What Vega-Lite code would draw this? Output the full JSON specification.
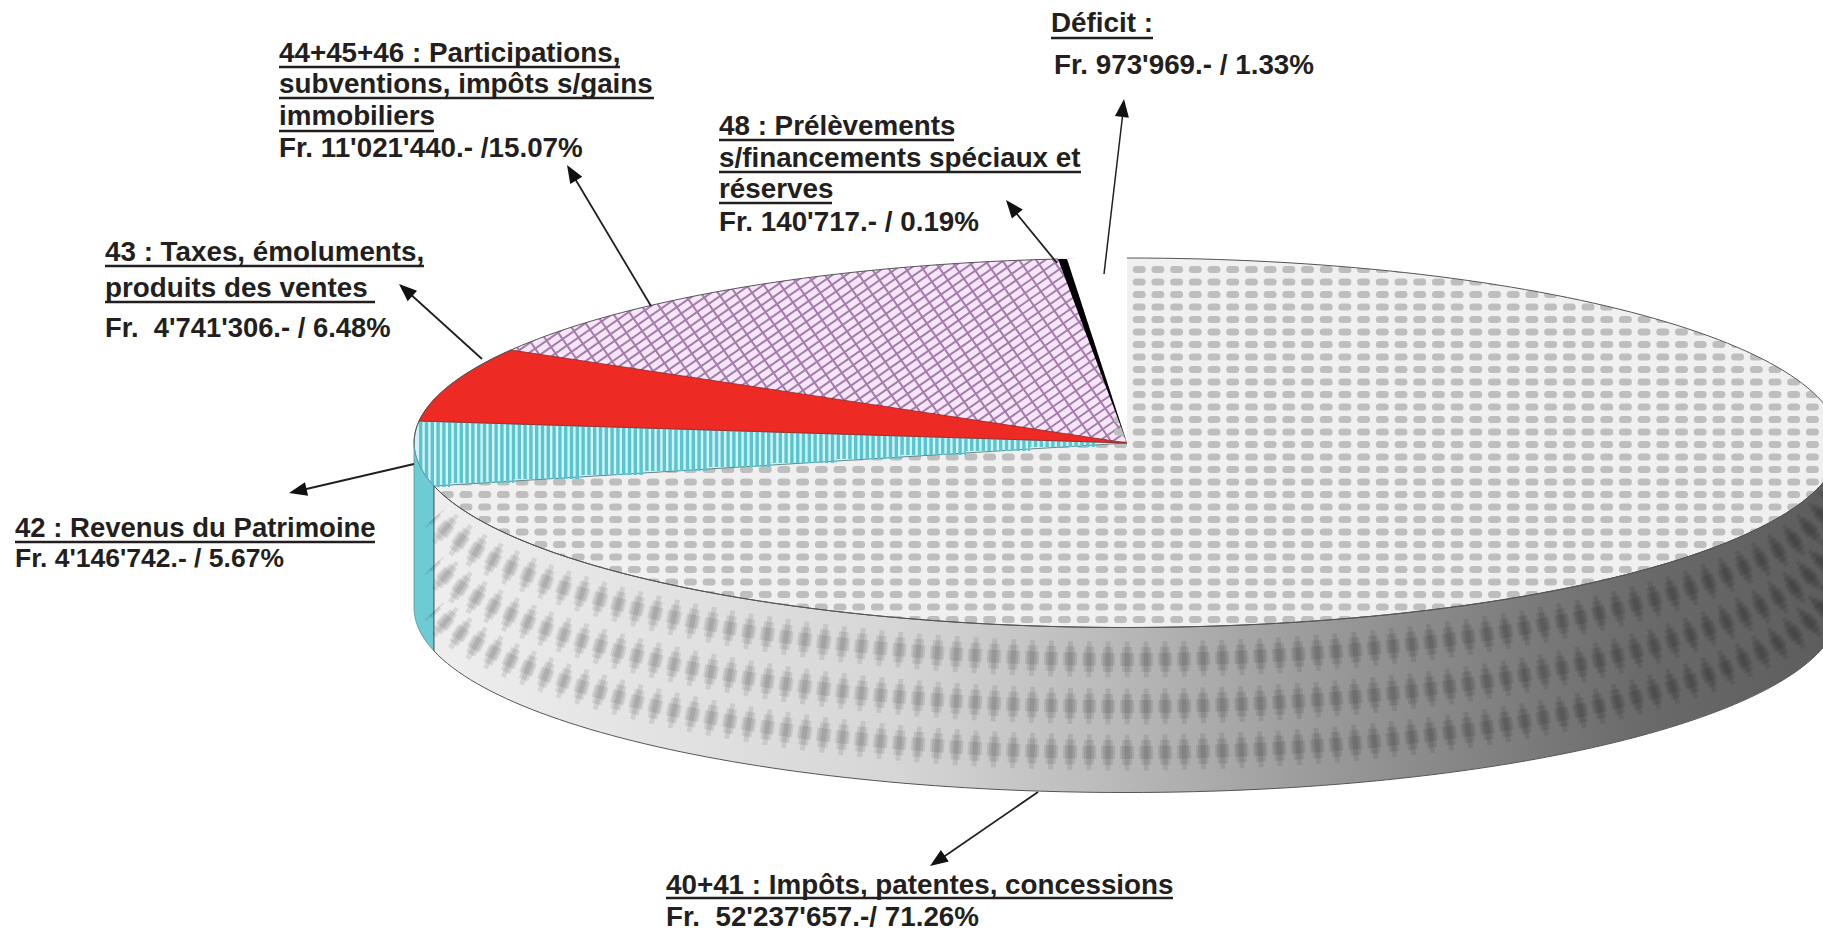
{
"$schema":"https://vega.github.io/schema/vega-lite/v6.json",
"width":1823,"height":928,"padding":0,"autosize":{"type":"none"},"background":"white",
"config":{"axis":{"disable":true},"view":{"stroke":null},"text":{"font":"Liberation Sans","fontWeight":"bold","fontSize":27.8,"align":"left","baseline":"alphabetic","color":"#231f20"},"rule":{"color":"#231f20"}},
"datasets":{"slices":[
{"slice":"40+41","label":"Impôts, patentes, concessions","amount":52237657,"share":71.26},
{"slice":"42","label":"Revenus du Patrimoine","amount":4146742,"share":5.67},
{"slice":"43","label":"Taxes, émoluments, produits des ventes","amount":4741306,"share":6.48},
{"slice":"44+45+46","label":"Participations, subventions, impôts s/gains immobiliers","amount":11021440,"share":15.07},
{"slice":"48","label":"Prélèvements s/financements spéciaux et réserves","amount":140717,"share":0.19},
{"slice":"Déficit","label":"Déficit","amount":973969,"share":1.33}
]},
"encoding":{"x":{"datum":1127,"scale":{"domain":[0,1823],"nice":false,"zero":false}},"y":{"datum":443,"scale":{"domain":[928,0],"nice":false,"zero":false}}},
"layer":[
{"data":{"name":"slices"},"transform":[{"filter":"datum.slice==='44+45+46'"}],"mark":{"type":"point","filled":true,"size":4,"opacity":1,"fill":"#f6e6f9","shape":"M-1000,-443H700V490H-1000Z"}},
{"data":{"name":"slices"},"transform":[{"filter":"datum.slice==='44+45+46'"}],"mark":{"type":"point","filled":false,"size":4,"opacity":1,"stroke":"#a67cac","strokeWidth":1000,"strokeDash":[2,5.8],"shape":"M-625,-500L-55,320"}},
{"data":{"name":"slices"},"transform":[{"filter":"datum.slice==='44+45+46'"}],"mark":{"type":"point","filled":false,"size":4,"opacity":1,"stroke":"#a67cac","strokeWidth":1000,"strokeDash":[2,12],"shape":"M-750,195L70,-375"}},
{"data":{"name":"slices"},"transform":[{"filter":"datum.slice==='40+41'"}],"mark":{"type":"point","filled":true,"size":4,"opacity":1,"fill":"#f0f0f0","shape":"M0,0L0,-185A713,185 0 1,1 -693,43Z"}},
{"data":{"name":"slices"},"transform":[{"filter":"datum.slice==='40+41'"}],"mark":{"type":"point","filled":false,"size":4,"opacity":1,"stroke":"#bebebe","strokeWidth":7,"strokeCap":"round","strokeDash":[6,12.7],"shape":"M-9.5,-173.5H720M-9.5,-161H720M-9.5,-148.5H720M-9.5,-136H720M-9.5,-123.5H720M-9.5,-111H720M-9.5,-98.5H720M-9.5,-86H720M-9.5,-73.5H720M-9.5,-61H720M-9.5,-48.5H720M-9.5,-36H720M-9.5,-23.5H720M-9.5,-11H720M-701.4,1.5H720M-701.4,14H720M-701.4,26.5H720M-701.4,39H720M-701.4,51.5H720M-701.4,64H720M-701.4,76.5H720M-701.4,89H720M-701.4,101.5H720M-701.4,114H720M-701.4,126.5H720M-701.4,139H720M-701.4,151.5H720M-701.4,164H720M-701.4,176.5H720"}},
{"data":{"name":"slices"},"transform":[{"filter":"datum.slice==='40+41'"}],"mark":{"type":"point","filled":true,"size":4,"opacity":1,"fill":"white","shape":"M-1127,-443H700V490H-1127ZM713,0A713,185 0 1,0 -713,0A713,185 0 1,0 713,0Z"}},
{"data":{"name":"slices"},"transform":[{"filter":"datum.slice==='42'"}],"mark":{"type":"point","filled":true,"size":4,"opacity":1,"fill":"#d2f2f5","stroke":"#4d6f74","strokeWidth":0.8,"shape":"M0,0L-693,43A713,185 0 0,1 -708,-22Z"}},
{"data":{"name":"slices"},"transform":[{"filter":"datum.slice==='42'"}],"mark":{"type":"point","filled":false,"size":4,"opacity":1,"stroke":"#58c5cf","strokeWidth":4.2,"strokeDash":[3.4,2.4],"shape":"M-708,-22H-220M-708,-18H-180M-708,-14H-140M-708,-10H-100M-708,-6H-60M-708,-2H-20M-708,2H-32M-708,6H-97M-708,10H-161M-708,14H-226M-708,18H-290M-708,22H-355M-708,26H-419M-708,30H-484M-708,34H-548M-708,38H-613M-708,42H-677"}},
{"data":{"name":"slices"},"transform":[{"filter":"datum.slice==='43'"}],"mark":{"type":"point","filled":true,"size":4,"opacity":1,"fill":"#ee2a24","stroke":"#8a2a28","strokeWidth":0.8,"shape":"M0,0L-708,-22A713,185 0 0,1 -616,-93Z"}},
{"data":{"name":"slices"},"transform":[{"filter":"datum.slice==='Déficit'"}],"mark":{"type":"point","filled":true,"size":4,"opacity":1,"fill":"white","shape":"M0,0L-60,-184A713,185 0 0,1 0,-190Z"}},
{"data":{"name":"slices"},"transform":[{"filter":"datum.slice==='48'"}],"mark":{"type":"point","filled":true,"size":4,"opacity":1,"fill":"#000000","shape":"M0,0L-69,-184A713,185 0 0,1 -60,-184Z"}},
{"data":{"name":"slices"},"transform":[{"filter":"datum.slice==='42'"}],"mark":{"type":"point","filled":true,"size":4,"opacity":1,"fill":"#6dcbd4","stroke":"#5a8f95","strokeWidth":0.8,"shape":"M-693,43A713,185 0 0,1 -713,0L-713,165A713,185 0 0,0 -693,208Z"}},
{"data":{"name":"slices"},"transform":[{"filter":"datum.slice==='40+41'"}],"mark":{"type":"point","filled":true,"size":4,"opacity":1,"stroke":"#555555","strokeWidth":1,"fill":{"gradient":"linear","x1":0,"y1":0,"x2":1,"y2":0,"stops":[{"offset":0,"color":"#eeeeee"},{"offset":0.33,"color":"#d6d6d6"},{"offset":0.47,"color":"#bcbcbc"},{"offset":0.68,"color":"#909090"},{"offset":0.86,"color":"#6a6a6a"},{"offset":1,"color":"#5c5c5c"}]},"shape":"M713,0A713,185 0 0,1 -693,43L-693,208A713,185 0 0,0 713,165Z"}},
{"data":{"name":"slices"},"transform":[{"filter":"datum.slice==='40+41'"}],"mark":{"type":"point","filled":false,"size":4,"opacity":1,"stroke":"#000000","strokeOpacity":0.09,"strokeWidth":36,"strokeDash":[5,14],"strokeDashOffset":-4.5,"shape":"M713,32A713,185 0 0,1 -693,75M713,79A713,185 0 0,1 -693,122M713,125A713,185 0 0,1 -693,168"}},
{"data":{"name":"slices"},"transform":[{"filter":"datum.slice==='40+41'"}],"mark":{"type":"point","filled":false,"size":4,"opacity":1,"stroke":"#000000","strokeOpacity":0.09,"strokeWidth":25,"strokeDash":[10,9],"strokeDashOffset":-2,"shape":"M713,32A713,185 0 0,1 -693,75M713,79A713,185 0 0,1 -693,122M713,125A713,185 0 0,1 -693,168"}},
{"data":{"name":"slices"},"transform":[{"filter":"datum.slice==='40+41'"}],"mark":{"type":"point","filled":false,"size":4,"opacity":1,"stroke":"#000000","strokeOpacity":0.09,"strokeWidth":13,"strokeDash":[14,5],"shape":"M713,32A713,185 0 0,1 -693,75M713,79A713,185 0 0,1 -693,122M713,125A713,185 0 0,1 -693,168"}},
{"data":{"name":"slices"},"transform":[{"filter":"datum.slice==='40+41'"}],"mark":{"type":"point","filled":false,"size":4,"opacity":1,"stroke":"#555555","strokeWidth":1,"shape":"M713,0A713,185 0 0,1 -693,43M-713,0A713,185 0 0,1 -69,-184M0,-185A713,185 0 0,1 713,0"}},

{"data":{"values":[{"text":"Déficit :"}]},"mark":"text","encoding":{"x":{"datum":1051},"y":{"datum":32},"text":{"field":"text"}}},
{"data":{"values":[{"text":"Fr. 973'969.- / 1.33%"}]},"mark":"text","encoding":{"x":{"datum":1054},"y":{"datum":74},"text":{"field":"text"}}},
{"data":{"values":[{"text":"48 : Prélèvements"}]},"mark":"text","encoding":{"x":{"datum":719},"y":{"datum":135},"text":{"field":"text"}}},
{"data":{"values":[{"text":"s/financements spéciaux et"}]},"mark":"text","encoding":{"x":{"datum":719},"y":{"datum":167},"text":{"field":"text"}}},
{"data":{"values":[{"text":"réserves"}]},"mark":"text","encoding":{"x":{"datum":719},"y":{"datum":198},"text":{"field":"text"}}},
{"data":{"values":[{"text":"Fr. 140'717.- / 0.19%"}]},"mark":"text","encoding":{"x":{"datum":719},"y":{"datum":231},"text":{"field":"text"}}},
{"data":{"values":[{"text":"44+45+46 : Participations,"}]},"mark":"text","encoding":{"x":{"datum":279},"y":{"datum":62},"text":{"field":"text"}}},
{"data":{"values":[{"text":"subventions, impôts s/gains"}]},"mark":"text","encoding":{"x":{"datum":279},"y":{"datum":93},"text":{"field":"text"}}},
{"data":{"values":[{"text":"immobiliers"}]},"mark":"text","encoding":{"x":{"datum":279},"y":{"datum":125},"text":{"field":"text"}}},
{"data":{"values":[{"text":"Fr. 11'021'440.- /15.07%"}]},"mark":"text","encoding":{"x":{"datum":279},"y":{"datum":157},"text":{"field":"text"}}},
{"data":{"values":[{"text":"43 : Taxes, émoluments,"}]},"mark":"text","encoding":{"x":{"datum":105},"y":{"datum":261},"text":{"field":"text"}}},
{"data":{"values":[{"text":"produits des ventes"}]},"mark":"text","encoding":{"x":{"datum":105},"y":{"datum":297},"text":{"field":"text"}}},
{"data":{"values":[{"text":"Fr.\u00a0\u00a04'741'306.- / 6.48%"}]},"mark":{"type":"text","fontSize":27.4},"encoding":{"x":{"datum":105},"y":{"datum":337},"text":{"field":"text"}}},
{"data":{"values":[{"text":"42 : Revenus du Patrimoine"}]},"mark":{"type":"text","fontSize":27.5},"encoding":{"x":{"datum":15},"y":{"datum":537},"text":{"field":"text"}}},
{"data":{"values":[{"text":"Fr. 4'146'742.- / 5.67%"}]},"mark":{"type":"text","fontSize":26.5},"encoding":{"x":{"datum":15},"y":{"datum":567},"text":{"field":"text"}}},
{"data":{"values":[{"text":"40+41 : Impôts, patentes, concessions"}]},"mark":"text","encoding":{"x":{"datum":666},"y":{"datum":894},"text":{"field":"text"}}},
{"data":{"values":[{"text":"Fr.\u00a0\u00a052'237'657.-/ 71.26%"}]},"mark":"text","encoding":{"x":{"datum":666},"y":{"datum":926},"text":{"field":"text"}}},

{"data":{"values":[{"slice":"Déficit"}]},"mark":{"type":"rule","strokeWidth":2.5},"encoding":{"x":{"datum":1051},"x2":{"datum":1153},"y":{"datum":38}}},
{"data":{"values":[{"slice":"48"}]},"mark":{"type":"rule","strokeWidth":2.5},"encoding":{"x":{"datum":719},"x2":{"datum":954},"y":{"datum":140}}},
{"data":{"values":[{"slice":"48"}]},"mark":{"type":"rule","strokeWidth":2.5},"encoding":{"x":{"datum":719},"x2":{"datum":1081},"y":{"datum":172}}},
{"data":{"values":[{"slice":"48"}]},"mark":{"type":"rule","strokeWidth":2.5},"encoding":{"x":{"datum":719},"x2":{"datum":832},"y":{"datum":203}}},
{"data":{"values":[{"slice":"44+45+46"}]},"mark":{"type":"rule","strokeWidth":2.5},"encoding":{"x":{"datum":279},"x2":{"datum":620},"y":{"datum":67}}},
{"data":{"values":[{"slice":"44+45+46"}]},"mark":{"type":"rule","strokeWidth":2.5},"encoding":{"x":{"datum":279},"x2":{"datum":654},"y":{"datum":98}}},
{"data":{"values":[{"slice":"44+45+46"}]},"mark":{"type":"rule","strokeWidth":2.5},"encoding":{"x":{"datum":279},"x2":{"datum":434},"y":{"datum":131}}},
{"data":{"values":[{"slice":"43"}]},"mark":{"type":"rule","strokeWidth":2.5},"encoding":{"x":{"datum":105},"x2":{"datum":424},"y":{"datum":266}}},
{"data":{"values":[{"slice":"43"}]},"mark":{"type":"rule","strokeWidth":2.5},"encoding":{"x":{"datum":105},"x2":{"datum":375},"y":{"datum":302}}},
{"data":{"values":[{"slice":"42"}]},"mark":{"type":"rule","strokeWidth":2.5},"encoding":{"x":{"datum":15},"x2":{"datum":375},"y":{"datum":542}}},
{"data":{"values":[{"slice":"40+41"}]},"mark":{"type":"rule","strokeWidth":2.5},"encoding":{"x":{"datum":666},"x2":{"datum":1173},"y":{"datum":898}}},

{"data":{"values":[{"slice":"Déficit"}]},"mark":{"type":"rule","strokeWidth":1.5},"encoding":{"x":{"datum":1104},"y":{"datum":274},"x2":{"datum":1123},"y2":{"datum":112}}},
{"data":{"values":[{"slice":"48"}]},"mark":{"type":"rule","strokeWidth":1.8},"encoding":{"x":{"datum":1057},"y":{"datum":263},"x2":{"datum":1012},"y2":{"datum":208}}},
{"data":{"values":[{"slice":"44+45+46"}]},"mark":{"type":"rule","strokeWidth":1.8},"encoding":{"x":{"datum":651},"y":{"datum":306},"x2":{"datum":574},"y2":{"datum":177}}},
{"data":{"values":[{"slice":"43"}]},"mark":{"type":"rule","strokeWidth":1.8},"encoding":{"x":{"datum":482},"y":{"datum":359},"x2":{"datum":408},"y2":{"datum":292}}},
{"data":{"values":[{"slice":"42"}]},"mark":{"type":"rule","strokeWidth":1.8},"encoding":{"x":{"datum":414},"y":{"datum":464},"x2":{"datum":302},"y2":{"datum":490}}},
{"data":{"values":[{"slice":"40+41"}]},"mark":{"type":"rule","strokeWidth":1.8},"encoding":{"x":{"datum":1038},"y":{"datum":792},"x2":{"datum":942},"y2":{"datum":858}}},

{"data":{"values":[{"slice":"Déficit"}]},"mark":{"type":"point","filled":true,"opacity":1,"fill":"#111","size":4,"shape":"M0,0L7,18L-7,18Z","angle":6.5},"encoding":{"x":{"datum":1124},"y":{"datum":99}}},
{"data":{"values":[{"slice":"48"}]},"mark":{"type":"point","filled":true,"opacity":1,"fill":"#111","size":4,"shape":"M0,0L7,18L-7,18Z","angle":321},"encoding":{"x":{"datum":1006},"y":{"datum":200}}},
{"data":{"values":[{"slice":"44+45+46"}]},"mark":{"type":"point","filled":true,"opacity":1,"fill":"#111","size":4,"shape":"M0,0L7,18L-7,18Z","angle":329},"encoding":{"x":{"datum":567},"y":{"datum":165}}},
{"data":{"values":[{"slice":"43"}]},"mark":{"type":"point","filled":true,"opacity":1,"fill":"#111","size":4,"shape":"M0,0L7,18L-7,18Z","angle":312},"encoding":{"x":{"datum":399},"y":{"datum":284}}},
{"data":{"values":[{"slice":"42"}]},"mark":{"type":"point","filled":true,"opacity":1,"fill":"#111","size":4,"shape":"M0,0L7,18L-7,18Z","angle":257},"encoding":{"x":{"datum":289},"y":{"datum":493}}},
{"data":{"values":[{"slice":"40+41"}]},"mark":{"type":"point","filled":true,"opacity":1,"fill":"#111","size":4,"shape":"M0,0L7,18L-7,18Z","angle":235.6},"encoding":{"x":{"datum":930},"y":{"datum":866}}}
]
}
